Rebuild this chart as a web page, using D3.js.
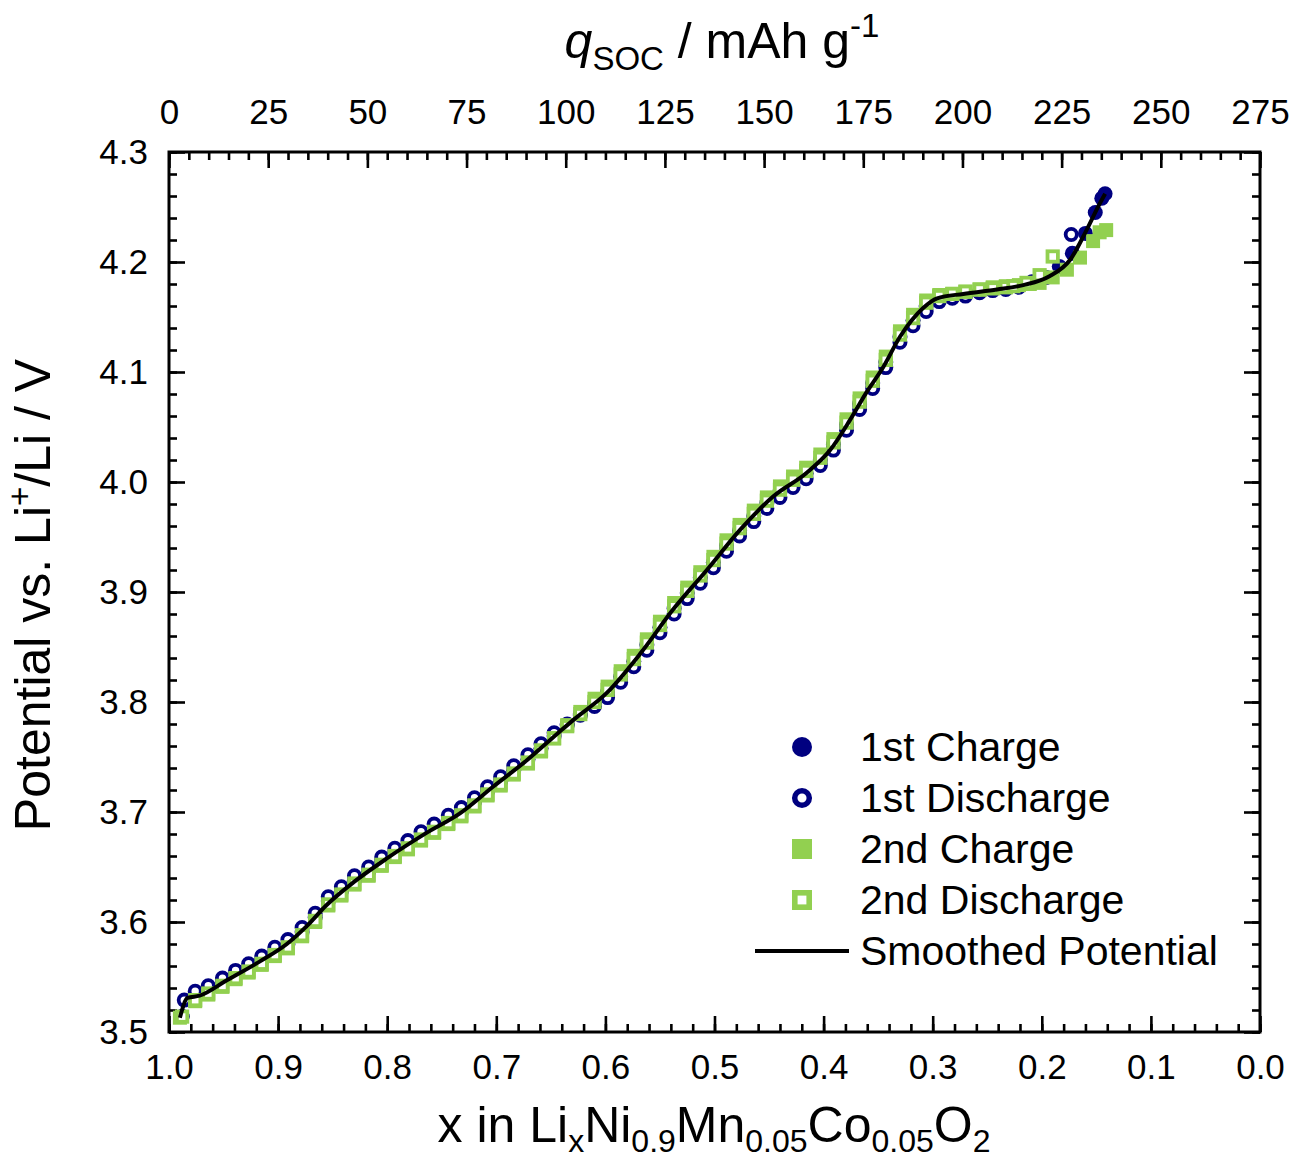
<!DOCTYPE html>
<html>
<head>
<meta charset="utf-8">
<script src="https://cdn.jsdelivr.net/npm/d3@7"></script>
<style>
  body { margin: 0; background: #fff; }
  text { font-family: "Liberation Sans", Arial, sans-serif; fill: #000; }
</style>
</head>
<body>
<svg id="chart" width="1306" height="1160"></svg>
<script>
// GITT / OCV points, x in LixNi0.9Mn0.05Co0.05O2 vs potential (V)
const charge1 = [[0.988,3.514],[0.976,3.532],[0.964,3.538],[0.951,3.545],[0.939,3.552],[0.927,3.558],[0.915,3.565],[0.903,3.573],[0.891,3.580],[0.878,3.591],[0.866,3.604],[0.854,3.619],[0.842,3.628],[0.830,3.638],[0.817,3.646],[0.805,3.655],[0.793,3.663],[0.781,3.670],[0.769,3.678],[0.757,3.685],[0.744,3.693],[0.732,3.700],[0.720,3.709],[0.708,3.719],[0.696,3.728],[0.684,3.738],[0.671,3.748],[0.659,3.758],[0.647,3.769],[0.635,3.779],[0.623,3.789],[0.610,3.799],[0.598,3.809],[0.586,3.823],[0.574,3.837],[0.562,3.852],[0.550,3.868],[0.537,3.885],[0.525,3.899],[0.513,3.913],[0.501,3.927],[0.489,3.942],[0.477,3.956],[0.464,3.969],[0.452,3.981],[0.440,3.991],[0.428,4.000],[0.416,4.008],[0.403,4.020],[0.391,4.034],[0.379,4.052],[0.367,4.071],[0.355,4.090],[0.343,4.109],[0.330,4.132],[0.318,4.147],[0.306,4.160],[0.294,4.167],[0.282,4.169],[0.270,4.171],[0.257,4.173],[0.245,4.175],[0.233,4.176],[0.221,4.178],[0.209,4.182],[0.196,4.186],[0.184,4.196],[0.172,4.208],[0.160,4.226],[0.151,4.245],[0.145,4.258],[0.142,4.262]];

const discharge1 = [[0.988,3.514],[0.986,3.529],[0.976,3.537],[0.964,3.542],[0.951,3.549],[0.939,3.556],[0.927,3.562],[0.915,3.569],[0.903,3.577],[0.891,3.584],[0.878,3.595],[0.866,3.608],[0.854,3.623],[0.842,3.632],[0.830,3.642],[0.817,3.650],[0.805,3.659],[0.793,3.667],[0.781,3.674],[0.769,3.682],[0.757,3.689],[0.744,3.697],[0.732,3.704],[0.720,3.713],[0.708,3.723],[0.696,3.732],[0.684,3.742],[0.671,3.752],[0.659,3.762],[0.647,3.772],[0.635,3.780],[0.623,3.788],[0.610,3.796],[0.598,3.804],[0.586,3.818],[0.574,3.832],[0.562,3.847],[0.550,3.863],[0.537,3.880],[0.525,3.894],[0.513,3.908],[0.501,3.922],[0.489,3.937],[0.477,3.951],[0.464,3.964],[0.452,3.976],[0.440,3.986],[0.428,3.995],[0.416,4.003],[0.403,4.015],[0.391,4.029],[0.379,4.047],[0.367,4.066],[0.355,4.085],[0.343,4.104],[0.330,4.127],[0.318,4.142],[0.306,4.155],[0.294,4.164],[0.282,4.167],[0.270,4.169],[0.257,4.172],[0.245,4.174],[0.233,4.175],[0.221,4.177],[0.209,4.181],[0.173,4.225]];

const charge2 = [[0.990,3.513],[0.976,3.528],[0.964,3.534],[0.951,3.541],[0.939,3.548],[0.927,3.554],[0.915,3.561],[0.903,3.569],[0.891,3.576],[0.878,3.587],[0.866,3.600],[0.854,3.615],[0.842,3.624],[0.830,3.634],[0.817,3.642],[0.805,3.651],[0.793,3.659],[0.781,3.666],[0.769,3.674],[0.757,3.681],[0.744,3.689],[0.732,3.696],[0.720,3.705],[0.708,3.715],[0.696,3.724],[0.684,3.734],[0.671,3.744],[0.659,3.755],[0.647,3.767],[0.635,3.779],[0.623,3.791],[0.610,3.803],[0.598,3.814],[0.586,3.828],[0.574,3.842],[0.562,3.857],[0.550,3.873],[0.537,3.890],[0.525,3.904],[0.513,3.918],[0.501,3.932],[0.489,3.947],[0.477,3.961],[0.464,3.974],[0.452,3.986],[0.440,3.996],[0.428,4.005],[0.416,4.013],[0.403,4.025],[0.391,4.039],[0.379,4.057],[0.367,4.076],[0.355,4.095],[0.343,4.114],[0.330,4.137],[0.318,4.152],[0.306,4.165],[0.294,4.170],[0.282,4.171],[0.270,4.173],[0.257,4.175],[0.245,4.177],[0.233,4.178],[0.221,4.179],[0.211,4.180],[0.202,4.181],[0.190,4.186],[0.177,4.193],[0.165,4.204],[0.153,4.219],[0.147,4.227],[0.141,4.229]];

const discharge2 = [[0.988,3.514],[0.976,3.529],[0.964,3.535],[0.951,3.542],[0.939,3.549],[0.927,3.555],[0.915,3.562],[0.903,3.570],[0.891,3.577],[0.878,3.588],[0.866,3.601],[0.854,3.616],[0.842,3.625],[0.830,3.635],[0.817,3.643],[0.805,3.652],[0.793,3.660],[0.781,3.667],[0.769,3.675],[0.757,3.682],[0.744,3.690],[0.732,3.697],[0.720,3.706],[0.708,3.716],[0.696,3.725],[0.684,3.735],[0.671,3.745],[0.659,3.756],[0.647,3.767],[0.635,3.778],[0.623,3.789],[0.610,3.800],[0.598,3.811],[0.586,3.825],[0.574,3.839],[0.562,3.854],[0.550,3.870],[0.537,3.887],[0.525,3.901],[0.513,3.915],[0.501,3.929],[0.489,3.944],[0.477,3.958],[0.464,3.971],[0.452,3.983],[0.440,3.993],[0.428,4.002],[0.416,4.010],[0.403,4.022],[0.391,4.036],[0.379,4.054],[0.367,4.073],[0.355,4.092],[0.343,4.111],[0.330,4.134],[0.318,4.149],[0.306,4.163],[0.294,4.169],[0.282,4.171],[0.270,4.173],[0.257,4.175],[0.245,4.176],[0.233,4.177],[0.226,4.178],[0.214,4.181],[0.202,4.188],[0.190,4.205]];

// smoothed potential, knots
const smooth_x = [0.990,0.983,0.972,0.947,0.917,0.892,0.874,0.856,0.831,0.800,0.764,0.733,0.703,0.672,0.642,0.629,0.599,0.568,0.538,0.507,0.477,0.446,0.416,0.394,0.376,0.361,0.345,0.330,0.309,0.296,0.272,0.241,0.217,0.193,0.174,0.159,0.147,0.142];
const smooth_v = [3.513,3.531,3.533,3.547,3.564,3.580,3.596,3.615,3.636,3.658,3.681,3.699,3.723,3.747,3.773,3.784,3.808,3.844,3.884,3.920,3.956,3.987,4.008,4.029,4.056,4.081,4.105,4.132,4.158,4.167,4.171,4.175,4.179,4.187,4.202,4.229,4.253,4.262];

const x_major = [1.0,0.9,0.8,0.7,0.6,0.5,0.4,0.3,0.2,0.1,0.0];
const q_major = [0,25,50,75,100,125,150,175,200,225,250,275];
const v_major = [3.5,3.6,3.7,3.8,3.9,4.0,4.1,4.2,4.3];
const legend_labels = ['1st Charge','1st Discharge','2nd Charge','2nd Discharge','Smoothed Potential'];

const NAVY = '#000080';
const GREEN = '#92d050';

const svg = d3.select('#chart');
const p_left = 169, p_right = 1260, p_top = 152, p_bottom = 1032;

const x = d3.scaleLinear().domain([1, 0]).range([p_left, p_right]);
const q = d3.scaleLinear().domain([0, 275]).range([p_left, p_right]);
const y = d3.scaleLinear().domain([3.5, 4.3]).range([p_bottom, p_top]);

const minor_ticks = function(scale, step) {
    const d = scale.domain();
    const lo = Math.min(d[0], d[1]), hi = Math.max(d[0], d[1]);
    return d3.range(Math.round(lo / step), Math.round(hi / step) + 1).map(function(i) { return i * step; });
};

const style_axis = function(g) {
    g.select('.domain').remove();
    g.selectAll('.tick line').attr('stroke', '#000').attr('stroke-width', 2.6);
    g.selectAll('.tick text').attr('font-size', 35).attr('fill', '#000');
};

// minor ticks
svg.append('g').attr('transform', `translate(0,${p_bottom})`)
    .call(d3.axisBottom(x).tickValues(minor_ticks(x, 0.02)).tickSize(-8).tickFormat(''))
    .call(style_axis);
svg.append('g').attr('transform', `translate(0,${p_top})`)
    .call(d3.axisTop(q).tickValues(minor_ticks(q, 5)).tickSize(-8).tickFormat(''))
    .call(style_axis);
svg.append('g').attr('transform', `translate(${p_left},0)`)
    .call(d3.axisLeft(y).tickValues(minor_ticks(y, 0.02)).tickSize(-8).tickFormat(''))
    .call(style_axis);
svg.append('g').attr('transform', `translate(${p_right},0)`)
    .call(d3.axisRight(y).tickValues(minor_ticks(y, 0.02)).tickSize(-8).tickFormat(''))
    .call(style_axis);

// major ticks + labels
svg.append('g').attr('transform', `translate(0,${p_bottom})`)
    .call(d3.axisBottom(x).tickValues(x_major).tickSize(-16).tickPadding(22).tickFormat(d3.format('.1f')))
    .call(style_axis);
svg.append('g').attr('transform', `translate(0,${p_top})`)
    .call(d3.axisTop(q).tickValues(q_major).tickSize(-16).tickPadding(28).tickFormat(d3.format('d')))
    .call(style_axis);
svg.append('g').attr('transform', `translate(${p_left},0)`)
    .call(d3.axisLeft(y).tickValues(v_major).tickSize(-16).tickPadding(21).tickFormat(d3.format('.1f')))
    .call(style_axis);
svg.append('g').attr('transform', `translate(${p_right},0)`)
    .call(d3.axisRight(y).tickValues(v_major).tickSize(-16).tickFormat(''))
    .call(style_axis);

svg.append('rect')
    .attr('x', p_left).attr('y', p_top)
    .attr('width', p_right - p_left).attr('height', p_bottom - p_top)
    .attr('fill', 'none').attr('stroke', '#000').attr('stroke-width', 3);

// data markers
const plot = svg.append('g');

plot.selectAll('.c1').data(charge1).enter().append('circle')
    .attr('cx', function(d) { return x(d[0]); })
    .attr('cy', function(d) { return y(d[1]); })
    .attr('r', 7.5).attr('fill', NAVY);

plot.selectAll('.d1').data(discharge1).enter().append('circle')
    .attr('cx', function(d) { return x(d[0]); })
    .attr('cy', function(d) { return y(d[1]); })
    .attr('r', 5.6).attr('fill', '#fff').attr('stroke', NAVY).attr('stroke-width', 3.8);

plot.selectAll('.c2').data(charge2).enter().append('rect')
    .attr('x', function(d) { return x(d[0]) - 7; })
    .attr('y', function(d) { return y(d[1]) - 7; })
    .attr('width', 14).attr('height', 14).attr('fill', GREEN);

plot.selectAll('.d2').data(discharge2).enter().append('rect')
    .attr('x', function(d) { return x(d[0]) - 5.2; })
    .attr('y', function(d) { return y(d[1]) - 5.2; })
    .attr('width', 10.4).attr('height', 10.4)
    .attr('fill', '#fff').attr('stroke', GREEN).attr('stroke-width', 3.8);

const smooth_line = d3.line()
    .x(function(d) { return x(d); })
    .y(function(d, i) { return y(smooth_v[i]); })
    .curve(d3.curveMonotoneX);

plot.append('path')
    .attr('d', smooth_line(smooth_x))
    .attr('fill', 'none').attr('stroke', '#000').attr('stroke-width', 4)
    .attr('stroke-linejoin', 'round');

// legend
const leg_x = 802, leg_text_x = 860, leg_y0 = 747, leg_dy = 51;
const legend = svg.append('g');
legend.append('circle').attr('cx', leg_x).attr('cy', leg_y0).attr('r', 10).attr('fill', NAVY);
legend.append('circle').attr('cx', leg_x).attr('cy', leg_y0 + leg_dy).attr('r', 7.3)
    .attr('fill', '#fff').attr('stroke', NAVY).attr('stroke-width', 5.5);
legend.append('rect').attr('x', leg_x - 10).attr('y', leg_y0 + 2 * leg_dy - 10)
    .attr('width', 20).attr('height', 20).attr('fill', GREEN);
legend.append('rect').attr('x', leg_x - 7.2).attr('y', leg_y0 + 3 * leg_dy - 7.2)
    .attr('width', 14.4).attr('height', 14.4)
    .attr('fill', '#fff').attr('stroke', GREEN).attr('stroke-width', 5.6);
legend.append('line')
    .attr('x1', 755).attr('x2', 849)
    .attr('y1', leg_y0 + 4 * leg_dy).attr('y2', leg_y0 + 4 * leg_dy)
    .attr('stroke', '#000').attr('stroke-width', 4);
legend.selectAll('.leg-text').data(legend_labels).enter().append('text')
    .attr('x', leg_text_x)
    .attr('y', function(d, i) { return leg_y0 + i * leg_dy; })
    .attr('dy', '0.35em')
    .attr('font-size', 41)
    .text(function(d) { return d; });

// axis titles
const bt = svg.append('text').attr('x', 714).attr('y', 1142).attr('text-anchor', 'middle').attr('font-size', 50);
bt.append('tspan').text('x in Li');
bt.append('tspan').attr('dy', 10).attr('font-size', 32).text('x');
bt.append('tspan').attr('dy', -10).text('Ni');
bt.append('tspan').attr('dy', 10).attr('font-size', 32).text('0.9');
bt.append('tspan').attr('dy', -10).text('Mn');
bt.append('tspan').attr('dy', 10).attr('font-size', 32).text('0.05');
bt.append('tspan').attr('dy', -10).text('Co');
bt.append('tspan').attr('dy', 10).attr('font-size', 32).text('0.05');
bt.append('tspan').attr('dy', -10).text('O');
bt.append('tspan').attr('dy', 10).attr('font-size', 32).text('2');

const tt = svg.append('text').attr('x', 722).attr('y', 58).attr('text-anchor', 'middle').attr('font-size', 50);
tt.append('tspan').attr('font-style', 'italic').text('q');
tt.append('tspan').attr('dy', 12).attr('font-size', 33).text('SOC');
tt.append('tspan').attr('dy', -12).text(' / mAh g');
tt.append('tspan').attr('dy', -21).attr('font-size', 33).text('-1');

const lt = svg.append('text')
    .attr('transform', 'translate(50,595) rotate(-90)')
    .attr('text-anchor', 'middle').attr('font-size', 50);
lt.append('tspan').text('Potential vs. Li');
lt.append('tspan').attr('dy', -19).attr('font-size', 33).text('+');
lt.append('tspan').attr('dy', 19).text('/Li / V');
</script>
</body>
</html>
